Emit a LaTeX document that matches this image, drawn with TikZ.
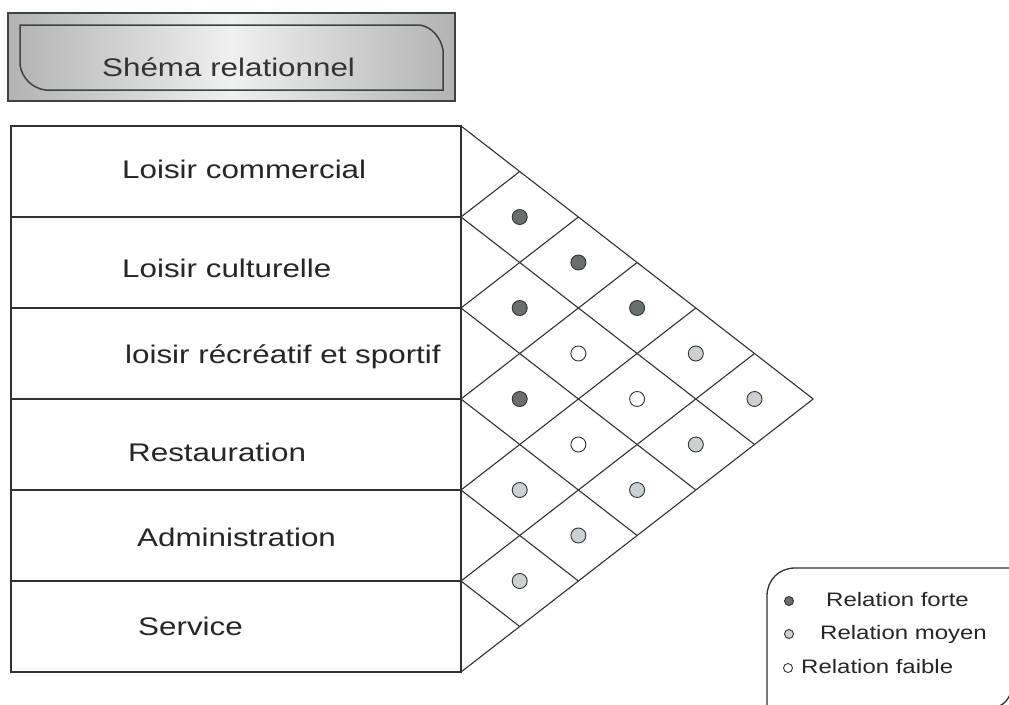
\documentclass[tikz,border=0pt]{standalone}
\usepackage{fontspec}
\setmainfont{Liberation Sans}
\newfontfamily\wfont[FakeStretch=1.23]{Liberation Sans}
\definecolor{lin}{HTML}{2E3330}
\definecolor{darkdot}{HTML}{6A6E6C}
\definecolor{middot}{HTML}{CDD0D2}
\definecolor{titleedge}{HTML}{3C4440}
\tikzset{
  tbl/.style={draw=lin, line width=1.5pt},
  grid/.style={draw=lin, line width=1.1pt},
  rowlabel/.style={anchor=base west, inner sep=0pt, text=black!85, font=\wfont\fontsize{25.5}{30}\selectfont},
  legtext/.style={anchor=base west, inner sep=0pt, text=black!85, font=\wfont\fontsize{19.5}{23}\selectfont},
  dotD/.style={circle, draw=lin, fill=darkdot, line width=0.9pt, minimum size=15pt, inner sep=0pt},
  dotM/.style={circle, draw=lin, fill=middot, line width=0.9pt, minimum size=15pt, inner sep=0pt},
  dotW/.style={circle, draw=lin, fill=white, line width=0.9pt, minimum size=15pt, inner sep=0pt},
  ldotD/.style={dotD, minimum size=9pt},
  ldotM/.style={dotM, minimum size=9pt},
  ldotW/.style={dotW, minimum size=9pt},
}
\begin{document}
\begin{tikzpicture}[x=1pt, y=-1pt]
\useasboundingbox[fill=white] (0,0) rectangle (1009,704);

% Title box
\shade[left color=gray!60, right color=gray!60, middle color=gray!12] (8,13) rectangle (455,101);
\draw[draw=titleedge, line width=2pt] (8,13) rectangle (455,101);
\draw[draw=titleedge, line width=1.5pt]
  (20,25) -- (420,25) .. controls (432,27) and (441,38) .. (443,50)
  -- (443,90) -- (45,90) .. controls (32,88) and (22,78) .. (20,65) -- cycle;
\node[anchor=base west, inner sep=0pt, text=black!80, font=\wfont\fontsize{25.5}{30}\selectfont] (title) at (102,76) {Shéma relationnel};

% Table
\foreach \k in {0,...,6} { \coordinate (L\k) at (461,{126+91*\k}); }
\draw[tbl] (11,126) rectangle (461,672);
\foreach \k in {1,...,5} { \draw[tbl] (11,{126+91*\k}) -- (L\k); }

\node[rowlabel] (r0) at (122,178) {Loisir commercial};
\node[rowlabel] (r1) at (122,277) {Loisir culturelle};
\node[rowlabel] (r2) at (125,363) {loisir récréatif et sportif};
\node[rowlabel] (r3) at (128,461) {Restauration};
\node[rowlabel] (r4) at (137,546) {Administration};
\node[rowlabel] (r5) at (138,635) {Service};

% Triangular grid
\foreach \k in {0,...,6} {
  \pgfmathsetmacro{\dn}{6-\k}
  \draw[grid] (L\k) -- ++({58.7*\dn},{45.5*\dn});
  \draw[grid] (L\k) -- ++({58.7*\k},{-45.5*\k});
}

% Dots: cell (a,b) centre at x = 461 + (b-a)*58.7, y = 171.5 + 45.5*(a+b)
\foreach \a/\b/\t in {0/1/D,0/2/D,1/2/D,0/3/D,1/3/W,0/4/M,2/3/D,1/4/W,0/5/M,2/4/W,1/5/M,3/4/M,2/5/M,3/5/M,4/5/M} {
  \node[dot\t] (c\a\b) at ({461+(\b-\a)*58.7},{171.5+45.5*(\a+\b)}) {};
}

% Legend
\draw[draw=lin, line width=1.3pt]
  (767,712) -- (767,596) .. controls (767,580) and (779,568) .. (795,568)
  -- (1012,568) -- (1012,684) .. controls (1012,698) and (1003,708) .. (990,708);
\node[ldotD] (ld1) at (789,601) {};
\node[ldotM] (ld2) at (789,634) {};
\node[ldotW] (ld3) at (788,668) {};
\node[legtext] (lt1) at (826,606) {Relation forte};
\node[legtext] (lt2) at (820,639) {Relation moyen};
\node[legtext] (lt3) at (801,673) {Relation faible};
\end{tikzpicture}
\end{document}
